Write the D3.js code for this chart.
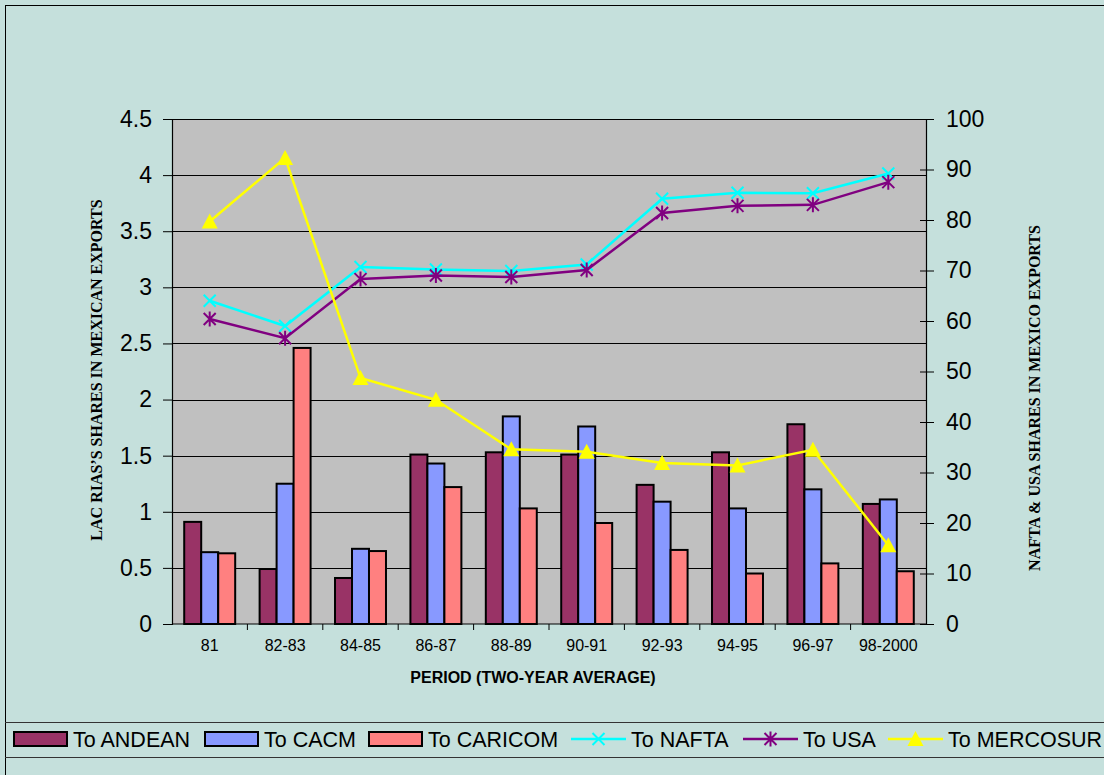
<!DOCTYPE html>
<html>
<head>
<meta charset="utf-8">
<title>Mexican exports</title>
<style>
  body { margin: 0; background: #c5e0dc; }
  svg { display: block; }
</style>
</head>
<body>
<svg width="1104" height="775"></svg>
<script src="https://cdn.jsdelivr.net/npm/d3@7"></script>
<script>
// periods (two-year averages)
var periods = ['81', '82-83', '84-85', '86-87', '88-89', '90-91', '92-93', '94-95', '96-97', '98-2000'];

// bar series, left axis
var andean  = [0.91, 0.49, 0.41, 1.51, 1.53, 1.51, 1.24, 1.53, 1.78, 1.07];
var cacm    = [0.64, 1.25, 0.67, 1.43, 1.85, 1.76, 1.09, 1.03, 1.20, 1.11];
var caricom = [0.63, 2.46, 0.65, 1.22, 1.03, 0.90, 0.66, 0.45, 0.54, 0.47];

// line series, right axis
var nafta    = [64.0, 59.0, 70.7, 70.2, 69.9, 71.2, 84.2, 85.4, 85.3, 89.2];
var usa      = [60.4, 56.6, 68.3, 69.0, 68.7, 70.1, 81.4, 82.8, 83.0, 87.5];
var mercosur = [79.7, 92.3, 48.7, 44.4, 34.6, 34.1, 31.9, 31.4, 34.5, 15.6];

var leftTicks  = [0, 0.5, 1, 1.5, 2, 2.5, 3, 3.5, 4, 4.5];
var rightTicks = [0, 10, 20, 30, 40, 50, 60, 70, 80, 90, 100];

var barSeries = [
  {name: 'To ANDEAN',  values: andean,  color: '#993366'},
  {name: 'To CACM',    values: cacm,    color: '#8899ff'},
  {name: 'To CARICOM', values: caricom, color: '#ff8080'}
];
var lineSeries = [
  {name: 'To NAFTA',    values: nafta,    color: '#00ffff', marker: 'x'},
  {name: 'To USA',      values: usa,      color: '#800080', marker: 'star'},
  {name: 'To MERCOSUR', values: mercosur, color: '#ffff00', marker: 'tri'}
];

var sans = 'Arial, Liberation Sans, sans-serif';
var serif = 'Liberation Serif, Times New Roman, serif';
var svg = d3.select('svg');
var L = 172, R = 926, T = 119, B = 624;

// outer frame
svg.append('rect').attr('x', 5.5).attr('y', 5.5).attr('width', 1110).attr('height', 800)
  .attr('fill', '#c5e0dc').attr('stroke', '#000').attr('stroke-width', 1);

var x0 = d3.scaleBand().domain(periods).range([L, R]);
var bw = x0.bandwidth();
var x1 = d3.scaleBand().domain(barSeries.map(function(d){ return d.name; }))
  .range([bw * 0.162, bw * 0.838]);
var yL = d3.scaleLinear().domain([0, 4.5]).range([B, T]);
var yR = d3.scaleLinear().domain([0, 100]).range([B, T]);

// plot area
svg.append('rect').attr('x', L).attr('y', T).attr('width', R - L).attr('height', B - T)
  .attr('fill', '#c0c0c0');

// gridlines
svg.append('g').selectAll('line').data(leftTicks.slice(1)).enter().append('line')
  .attr('x1', L).attr('x2', R)
  .attr('y1', function(d){ return Math.round(yL(d)) + 0.5; })
  .attr('y2', function(d){ return Math.round(yL(d)) + 0.5; })
  .attr('stroke', '#000').attr('stroke-width', 1);

// bars
var groups = svg.append('g').selectAll('g').data(periods).enter().append('g')
  .attr('transform', function(d){ return 'translate(' + x0(d) + ',0)'; });
barSeries.forEach(function(s) {
  groups.append('rect')
    .attr('x', function(d, i){ return x1(s.name); })
    .attr('y', function(d, i){ return yL(s.values[i]); })
    .attr('width', x1.bandwidth())
    .attr('height', function(d, i){ return B - yL(s.values[i]); })
    .attr('fill', s.color).attr('stroke', '#000').attr('stroke-width', 2);
});

function drawMarker(g, type, color, cx, cy) {
  if (type == 'x') {
    var r = 6;
    g.append('path').attr('d', 'M' + (cx - r) + ',' + (cy - r) + 'L' + (cx + r) + ',' + (cy + r) +
      'M' + (cx - r) + ',' + (cy + r) + 'L' + (cx + r) + ',' + (cy - r))
      .attr('stroke', color).attr('stroke-width', 2).attr('fill', 'none');
  } else if (type == 'star') {
    var r = 6;
    g.append('path').attr('d', 'M' + (cx - r) + ',' + (cy - r) + 'L' + (cx + r) + ',' + (cy + r) +
      'M' + (cx - r) + ',' + (cy + r) + 'L' + (cx + r) + ',' + (cy - r) +
      'M' + cx + ',' + (cy - r - 1.5) + 'L' + cx + ',' + (cy + r + 1.5))
      .attr('stroke', color).attr('stroke-width', 2).attr('fill', 'none');
  } else {
    var h = 14, w = 16;
    g.append('path').attr('d', 'M' + cx + ',' + (cy - h / 2 - 1) + 'L' + (cx + w / 2) + ',' + (cy + h / 2) +
      'L' + (cx - w / 2) + ',' + (cy + h / 2) + 'Z')
      .attr('fill', color);
  }
}

// lines
var line = d3.line()
  .x(function(d, i){ return x0(periods[i]) + bw / 2; })
  .y(function(d){ return yR(d); });
lineSeries.forEach(function(s) {
  var g = svg.append('g');
  g.append('path').datum(s.values).attr('d', line)
    .attr('fill', 'none').attr('stroke', s.color).attr('stroke-width', 2.5);
  s.values.forEach(function(v, i) {
    drawMarker(g, s.marker, s.color, x0(periods[i]) + bw / 2, yR(v));
  });
});

// axes
var axL = svg.append('g').attr('transform', 'translate(' + L + ',0)')
  .call(d3.axisLeft(yL).tickValues(leftTicks).tickSize(9).tickPadding(11).tickFormat(d3.format('')));
var axR = svg.append('g').attr('transform', 'translate(' + R + ',0)')
  .call(d3.axisRight(yR).tickValues(rightTicks).tickSize(8).tickPadding(12));
axR.selectAll('.tick line').attr('x1', -6);
var axB = svg.append('g').attr('transform', 'translate(0,' + B + ')')
  .call(d3.axisBottom(x0).tickSize(0).tickPadding(16));
[axL, axR, axB].forEach(function(a) {
  a.select('.domain').attr('stroke', '#000').attr('stroke-width', 1.2);
  a.selectAll('.tick line').attr('stroke', '#000');
  a.selectAll('text').attr('fill', '#000').attr('font-family', sans);
});
axL.selectAll('text').attr('font-size', 23);
axR.selectAll('text').attr('font-size', 23);
axB.selectAll('text').attr('font-size', 16);
axB.select('.domain').attr('d', 'M' + L + ',0H' + R);
// category boundary ticks
axB.selectAll('.bt').data(periods.slice(1)).enter().append('line')
  .attr('x1', function(d){ return x0(d); }).attr('x2', function(d){ return x0(d); })
  .attr('y1', 0).attr('y2', 6).attr('stroke', '#000');

// axis titles
svg.append('text').text('PERIOD (TWO-YEAR AVERAGE)')
  .attr('x', 533).attr('y', 683).attr('text-anchor', 'middle')
  .attr('font-family', sans).attr('font-weight', 'bold')
  .attr('font-size', 16).attr('fill', '#000');
svg.append('text').text('LAC RIAS\u2019S SHARES IN MEXICAN EXPORTS')
  .attr('transform', 'translate(102,370) rotate(-90)').attr('text-anchor', 'middle')
  .attr('font-family', serif).attr('font-weight', 'bold')
  .attr('font-size', 16).attr('fill', '#000');
svg.append('text').text('NAFTA & USA SHARES IN MEXICO EXPORTS')
  .attr('transform', 'translate(1040,398) rotate(-90)').attr('text-anchor', 'middle')
  .attr('font-family', serif).attr('font-weight', 'bold')
  .attr('font-size', 16).attr('fill', '#000');

// legend
var legY = 739;
svg.append('line').attr('x1', 5).attr('x2', 1104).attr('y1', 722.5).attr('y2', 722.5).attr('stroke', '#333');
svg.append('line').attr('x1', 5).attr('x2', 1104).attr('y1', 757.5).attr('y2', 757.5).attr('stroke', '#333');
var barLegX = [14, 205, 369];
barSeries.forEach(function(s, i) {
  svg.append('rect').attr('x', barLegX[i]).attr('y', legY - 7).attr('width', 53).attr('height', 14)
    .attr('fill', s.color).attr('stroke', '#000').attr('stroke-width', 2);
  svg.append('text').text(s.name).attr('x', barLegX[i] + 59).attr('y', legY + 8)
    .attr('font-family', sans).attr('font-size', 21.5).attr('fill', '#000');
});
var lineLegX = [571, 743, 888];
lineSeries.forEach(function(s, i) {
  var g = svg.append('g');
  g.append('line').attr('x1', lineLegX[i]).attr('x2', lineLegX[i] + 55)
    .attr('y1', legY).attr('y2', legY).attr('stroke', s.color).attr('stroke-width', 2.5);
  drawMarker(g, s.marker, s.color, lineLegX[i] + 27.5, legY);
  svg.append('text').text(s.name).attr('x', lineLegX[i] + 60).attr('y', legY + 8)
    .attr('font-family', sans).attr('font-size', 21.5).attr('fill', '#000');
});
</script>
</body>
</html>
